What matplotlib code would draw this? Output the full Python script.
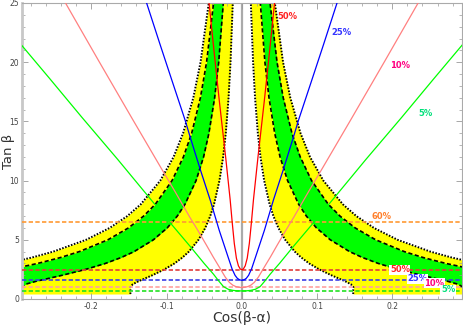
import numpy as np
import matplotlib
matplotlib.use('Agg')
from matplotlib import pyplot as plt
from matplotlib.ticker import MultipleLocator

tan_band = [0.42, 0.6, 0.8, 1.0, 1.25, 1.5, 2, 2.5, 3, 3.5, 4, 5, 6, 7, 8,
            10, 12, 14, 17, 20, 25]
yellow_in = [0.148, 0.148, 0.148, 0.1483, 0.1448, 0.1372, 0.1191, 0.1029,
             0.0896, 0.0790, 0.0704, 0.0576, 0.0486, 0.0420, 0.0369, 0.0297,
             0.0248, 0.0213, 0.0176, 0.0150, 0.0120]
yellow_out = [0.5, 0.5, 0.5, 0.482, 0.4728, 0.4527, 0.4027, 0.3547, 0.3134,
              0.2790, 0.2506, 0.2069, 0.1756, 0.1522, 0.1342, 0.1083, 0.0906,
              0.0780, 0.0644, 0.0548, 0.0439]

tan_green = [1.0, 1.25, 1.5, 2, 2.5, 3, 3.5, 4, 5, 6, 7, 8, 10, 12, 14, 17,
             20, 25]
green_in = [0.2939, 0.2873, 0.2731, 0.2389, 0.2075, 0.1814, 0.1604, 0.1432,
            0.1175, 0.0992, 0.0858, 0.0755, 0.0608, 0.0508, 0.0437, 0.0361,
            0.0307, 0.0246]
green_out = [0.4254, 0.41, 0.398, 0.352, 0.3083, 0.2714, 0.241, 0.216,
             0.1779, 0.1507, 0.1305, 0.1149, 0.0927, 0.0776, 0.0666, 0.0550,
             0.0468, 0.0375]

# Curvas em V (metade direita: |cos(b-a)|, tan b)
red_x = [0, 0.002, 0.0045, 0.0072, 0.0100, 0.0128, 0.0155, 0.0215, 0.030,
         0.037, 0.044]
red_t = [2.48, 2.53, 2.8, 3.45, 4.7, 6.5, 8.4, 12.0, 16.8, 21.0, 25.3]
blue_x = [0, 0.003, 0.006, 0.009, 0.013, 0.018, 0.024, 0.030, 0.042, 0.0555,
          0.0687, 0.0753, 0.092, 0.1086, 0.128]
blue_t = [1.58, 1.62, 1.75, 2.0, 2.55, 3.5, 4.65, 5.8, 8.36, 11.0, 13.7,
          15.1, 18.3, 21.5, 25.3]
pink_x = [0, 0.004, 0.008, 0.012, 0.0165, 0.022, 0.029, 0.038, 0.047, 0.058,
          0.069, 0.0885, 0.1085, 0.1444, 0.19, 0.236]
pink_t = [0.97, 0.99, 1.05, 1.17, 1.4, 1.85, 2.6, 3.55, 4.55, 5.75, 6.9,
          9.05, 11.2, 15.1, 20.1, 25.2]
green_x = [0, 0.006, 0.012, 0.018, 0.0244, 0.031, 0.0377, 0.050, 0.0687,
           0.094, 0.1195, 0.165, 0.2125, 0.255, 0.30]
green_t = [0.68, 0.69, 0.73, 0.82, 1.05, 1.55, 2.1, 3.0, 4.45, 6.35, 8.3,
           11.8, 15.35, 18.6, 22.0]

# Linhas horizontais
h_levels = [6.5, 2.48, 1.58, 0.98, 0.65]
h_colors = ['#ff9933', '#e03c3c', '#3c3ce6', '#ffa0a0', '#22e022']
h_labels = ['60%', '50%', '25%', '10%', '5%']
h_label_x = [0.186, 0.210, 0.233, 0.2556, 0.274]
h_label_y = [7.0, 2.48, 1.69, 1.35, 0.79]
h_text_colors = ['#ff7f2a', '#ff2222', '#3333ff', '#ff0080', '#00e07a']

v_colors = ['#ff0000', '#0000ff', '#ff8080', '#00ff00']
v_labels = ['50%', '25%', '10%', '5%']
v_label_x = [0.0604, 0.1325, 0.2096, 0.2434]
v_label_y = [23.9, 22.5, 19.7, 15.7]
v_text_colors = ['#ff2222', '#3333ff', '#ff0080', '#00e07a']


def mirror(xs, ts):
    xs = np.asarray(xs)
    ts = np.asarray(ts)
    return (np.concatenate([-xs[::-1], xs[1:]]),
            np.concatenate([ts[::-1], ts[1:]]))


fig = plt.figure(figsize=(4.63, 3.27), dpi=100)
ax = fig.add_axes([22 / 463, 1 - 299 / 327, 440 / 463, 296 / 327])

for s in (1, -1):
    ax.fill_betweenx(tan_band, s * np.array(yellow_in), s * np.array(yellow_out),
                     color='#ffff00', lw=0, zorder=1)
    ax.fill_betweenx(tan_green, s * np.array(green_in), s * np.array(green_out),
                     color='#00ff00', lw=0, zorder=1.1)
    ax.plot(s * np.array(green_in), tan_green, color='black', lw=1.2,
            ls=(0, (2.5, 1.5)), zorder=2)
    ax.plot(s * np.array(green_out), tan_green, color='black', lw=1.2,
            ls=(0, (2.5, 1.5)), zorder=2)
    ax.plot(s * np.array(yellow_in), tan_band, color='black', lw=1.4,
            ls=(0, (0.8, 0.8)), zorder=2)
    ax.plot(s * np.array(yellow_out), tan_band, color='black', lw=1.4,
            ls=(0, (0.8, 0.8)), zorder=2)

ax.axvline(0, color='#aaaaaa', lw=1.6, zorder=0.5)

for lev, c in zip(h_levels, h_colors):
    ax.axhline(lev, color=c, lw=1.2, ls=(0, (2.6, 1.4)), zorder=3)

for (xs, ts), c in zip([(red_x, red_t), (blue_x, blue_t), (pink_x, pink_t),
                        (green_x, green_t)], v_colors):
    mx, mt = mirror(xs, ts)
    ax.plot(mx, mt, color=c, lw=0.9, zorder=4)

for lab, x, y, c in zip(v_labels, v_label_x, v_label_y, v_text_colors):
    ax.text(x, y, lab, color=c, fontsize=6, fontweight='bold',
            ha='center', va='center', zorder=5)

for lab, x, y, c in zip(h_labels, h_label_x, h_label_y, h_text_colors):
    box = None if lab == '60%' else dict(facecolor='white', edgecolor='none', pad=0.4)
    ax.text(x, y, lab, color=c, fontsize=6, fontweight='bold',
            ha='center', va='center', zorder=5, bbox=box)

ax.set_xlim(-0.292, 0.2925)
ax.set_ylim(0, 25)
ax.set_xticks([-0.2, -0.1, 0.0, 0.1, 0.2])
ax.set_xticklabels(['-0.2', '-0.1', '0.0', '0.1', '0.2'])
ax.set_yticks([0, 5, 10, 15, 20, 25])
ax.xaxis.set_minor_locator(MultipleLocator(0.02))
ax.yaxis.set_minor_locator(MultipleLocator(1))
ax.tick_params(which='both', direction='in', top=True, right=True,
               color='#999999', labelsize=5.5, labelcolor='#444444', pad=2)
ax.tick_params(which='major', length=4, width=0.6)
ax.tick_params(which='minor', length=2, width=0.5)

for side in ['top', 'right', 'bottom']:
    ax.spines[side].set_color('#aaaaaa')
    ax.spines[side].set_linewidth(0.8)
ax.spines['left'].set_color('#c8c8c8')
ax.spines['left'].set_linewidth(2)

ax.set_xlabel('Cos(β-α)', fontsize=10, color='#333333', labelpad=0)
ax.set_ylabel('Tan β', fontsize=9.5, color='#333333')
ax.yaxis.set_label_coords(-0.017, 0.5)

fig.savefig('out.png', dpi=100)
